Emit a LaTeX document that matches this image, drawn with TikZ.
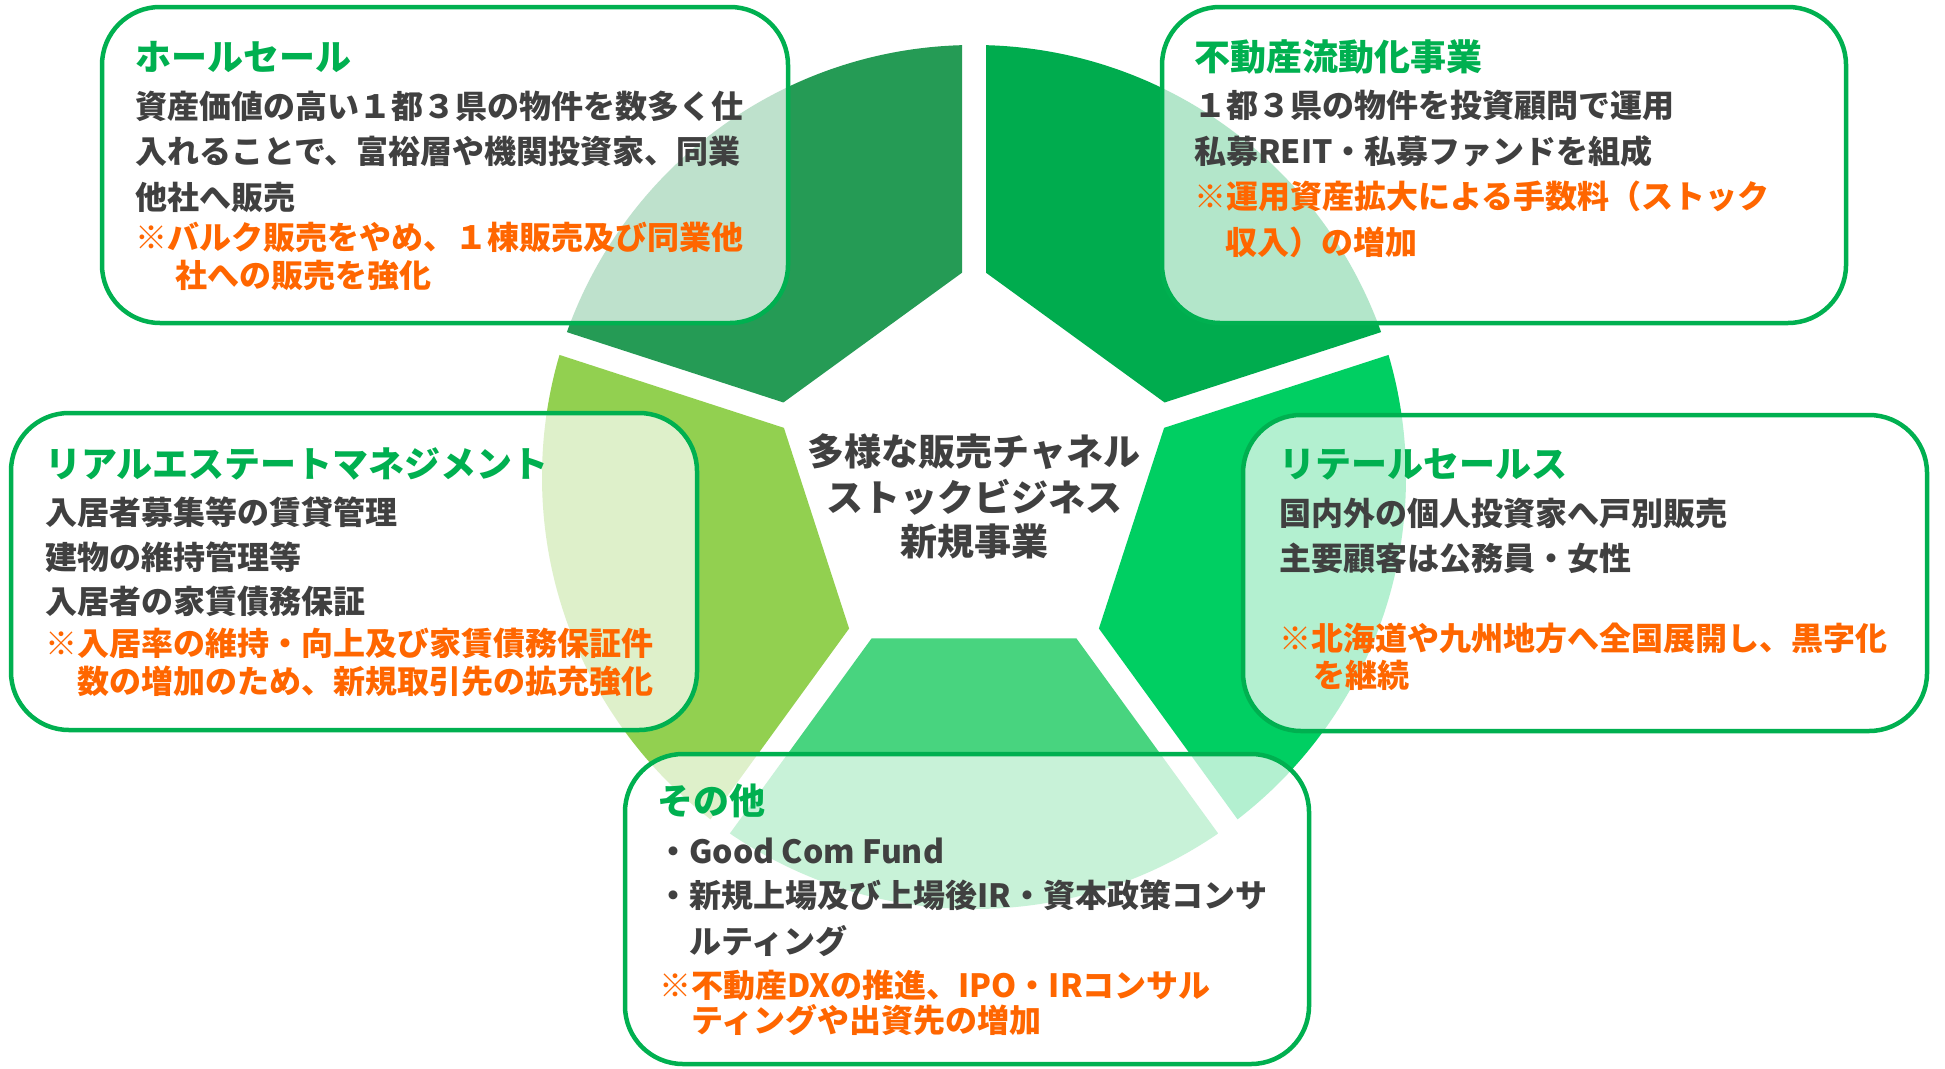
\documentclass[tikz,border=0pt]{standalone}
\usepackage{fontspec}
\setmainfont{Noto Sans CJK JP}
\usetikzlibrary{calc}
\definecolor{cTL}{HTML}{259B55}
\definecolor{cTR}{HTML}{00AC4E}
\definecolor{cR}{HTML}{00CF62}
\definecolor{cB}{HTML}{48D47F}
\definecolor{cL}{HTML}{92D050}
\definecolor{boxgreen}{HTML}{00B050}
\definecolor{headgreen}{HTML}{00B050}
\definecolor{txtgray}{HTML}{404040}
\definecolor{txtorange}{HTML}{FF6600}
% #1 start angle, #2 mid angle, #3 end angle, #4 colour
\newcommand\drawsegment[4]{%
  \begin{scope}
    \clip ($(O)+(#2:20.4)$) -- ($(O)+(#2:20.4)+(#1:800)$) -- ($(O)+(#2:900)$) -- ($(O)+(#2:20.4)+(#3:800)$) -- cycle;
    \fill[#4, even odd rule] (O) circle[radius=432]
      ($(Q)+(90:207)$) -- ($(Q)+(162:207)$) -- ($(Q)+(234:207)$) -- ($(Q)+(306:207)$) -- ($(Q)+(18:207)$) -- cycle;
  \end{scope}}
\begin{document}
\begin{tikzpicture}[x=1pt,y=1pt,
  box/.style={draw=boxgreen, line width=4.5pt, rounded corners=58pt, fill=white, fill opacity=0.7, inner sep=0pt},
  head/.style={anchor=west, inner sep=0pt, text=headgreen, font=\fontsize{36}{36}\selectfont\bfseries, text height=28.8pt, text depth=2.5pt},
  body/.style={anchor=west, inner sep=0pt, text=txtgray, font=\fontsize{32}{32}\selectfont\bfseries, text height=25.6pt, text depth=2.24pt},
  note/.style={body, text=txtorange},
  hub/.style={anchor=center, inner sep=0pt, text=txtgray, font=\fontsize{37}{37}\selectfont\bfseries, text height=29.6pt, text depth=2.6pt}]
\useasboundingbox (0,0) rectangle (1945,-1068);
\fill[white] (0,0) rectangle (1945,-1068);
\coordinate (O) at (974,-477);
\coordinate (Q) at (974,-471);
% pie segments
\drawsegment{90}{126}{162}{cTL}
\drawsegment{162}{198}{234}{cL}
\drawsegment{234}{270}{306}{cB}
\drawsegment{306}{342}{378}{cR}
\drawsegment{18}{54}{90}{cTR}
% boxes
\node[box, minimum width=686pt, minimum height=316pt] (wholesale) at (445,-165) {};
\node[box, minimum width=684pt, minimum height=316pt] (fluid) at (1504,-165) {};
\node[box, minimum width=686pt, minimum height=317pt] (rem) at (354,-571.5) {};
\node[box, minimum width=684pt, minimum height=316pt] (retail) at (1585,-573) {};
\node[box, minimum width=684pt, minimum height=310pt] (other) at (967,-909) {};
% wholesale text
\node[head] (w0) at (135,-57) {ホールセール};
\node[body] (w1) at (135,-106.5) {資産価値の高い１都３県の物件を数多く仕};
\node[body] (w2) at (135,-152) {入れることで、富裕層や機関投資家、同業};
\node[body] (w3) at (135,-198) {他社へ販売};
\node[note] (w4) at (135,-238) {※バルク販売をやめ、１棟販売及び同業他};
\node[note] (w5) at (175,-276) {社への販売を強化};
% fluidization text
\node[head] (f0) at (1194,-57.5) {不動産流動化事業};
\node[body] (f1) at (1194,-106) {１都３県の物件を投資顧問で運用};
\node[body] (f2) at (1194,-151.5) {私募REIT・私募ファンドを組成};
\node[note] (f3) at (1194,-196.5) {※運用資産拡大による手数料（ストック};
\node[note] (f4) at (1225,-243) {収入）の増加};
% real estate management text
\node[head] (r0) at (45,-464) {リアルエステートマネジメント};
\node[body] (r1) at (45,-513) {入居者募集等の賃貸管理};
\node[body] (r2) at (45,-557.5) {建物の維持管理等};
\node[body] (r3) at (45,-602) {入居者の家賃債務保証};
\node[note] (r4) at (45,-644) {※入居率の維持・向上及び家賃債務保証件};
\node[note] (r5) at (77,-682) {数の増加のため、新規取引先の拡充強化};
% retail text
\node[head] (s0) at (1279,-464) {リテールセールス};
\node[body] (s1) at (1279,-514) {国内外の個人投資家へ戸別販売};
\node[body] (s2) at (1279,-559) {主要顧客は公務員・女性};
\node[note] (s3) at (1279,-638.5) {※北海道や九州地方へ全国展開し、黒字化};
\node[note] (s4) at (1313,-676) {を継続};
% other text
\node[head] (o0) at (657,-801.5) {その他};
\node[body] (o1) at (657,-851.5) {・Good Com Fund};
\node[body] (o2) at (657,-896) {・新規上場及び上場後IR・資本政策コンサ};
\node[body] (o3) at (689,-942) {ルティング};
\node[note] (o4) at (659,-986) {※不動産DXの推進、IPO・IRコンサル};
\node[note] (o5) at (691,-1021) {ティングや出資先の増加};
% hub text
\node[hub] (h1) at (974,-452) {多様な販売チャネル};
\node[hub] (h2) at (974,-497.5) {ストックビジネス};
\node[hub] (h3) at (974,-542) {新規事業};
\end{tikzpicture}
\end{document}
